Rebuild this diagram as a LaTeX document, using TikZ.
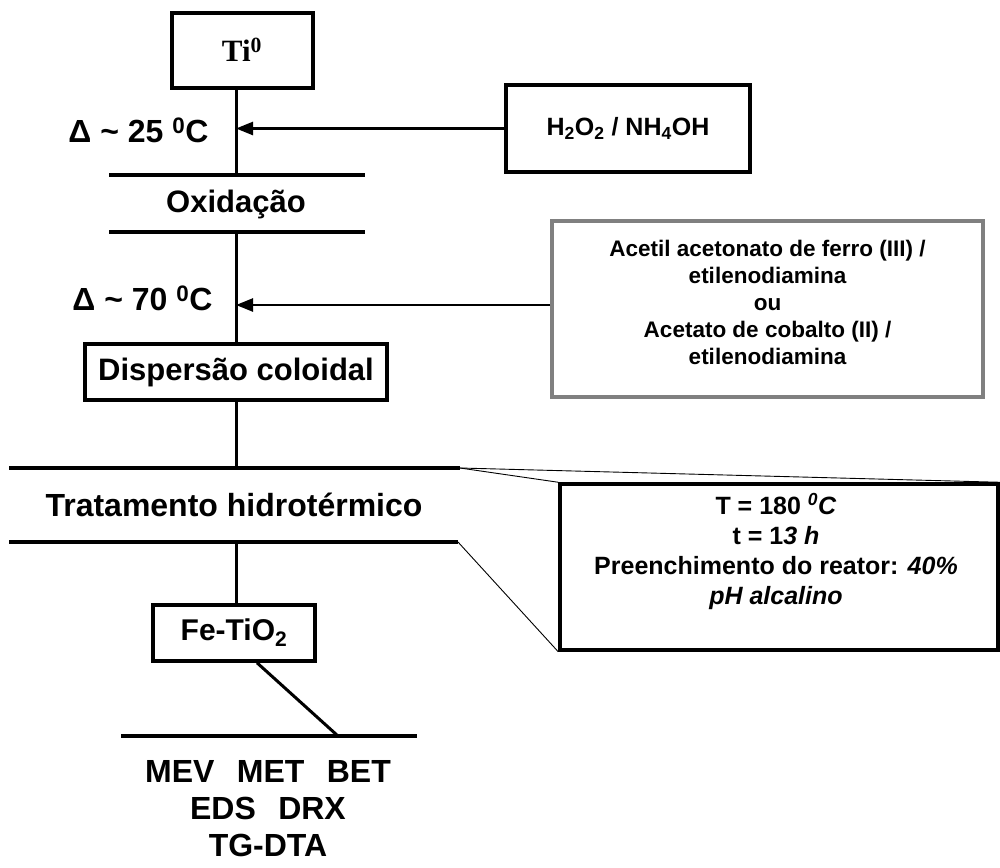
\documentclass[tikz,border=0pt]{standalone}
\usepackage{fontspec}
\setmainfont{Liberation Sans}
\newfontfamily\serifb{Liberation Serif}
\usetikzlibrary{arrows.meta,backgrounds}
\begin{document}
\begin{tikzpicture}[x=1pt,y=-1pt,
  box/.style={draw, line width=3.5pt, inner sep=0pt},
  hline/.style={line width=3.5pt},
  vline/.style={line width=3pt},
  arr/.style={line width=2.5pt,-{Triangle[length=17pt,width=13pt]}},
  thin/.style={line width=0.9pt},
]
\useasboundingbox (0,0) rectangle (1000,867);

% Ti box
\node[box, minimum width=141pt, minimum height=75pt] (ti) at (242.5,50.5) {};
\node[font=\serifb\fontsize{31}{34}\selectfont\bfseries] (titext) at (242,50)
  {Ti\textsuperscript{0}};
\coordinate (oxtop) at (236,175);
\coordinate (oxl1) at (109,175);
\coordinate (oxr1) at (365,175);
\coordinate (oxl2) at (109,232);
\coordinate (oxr2) at (365,232);
\coordinate (oxbot) at (236,232);
\draw[vline] (ti.south -| oxtop) -- (oxtop);
\draw[hline] (oxl1) -- (oxr1);
\draw[hline] (oxl2) -- (oxr2);
\node[font=\fontsize{31}{36}\selectfont\bfseries] (ox) at (236,204) {Oxidação};

% H2O2 box
\node[box, minimum width=244pt, minimum height=87pt, font=\fontsize{25}{30}\selectfont\bfseries] (h2o2) at (628,128.5)
  {H\textsubscript{2}O\textsubscript{2} / NH\textsubscript{4}OH};
\draw[arr] (h2o2.west) -- (h2o2.west -| oxtop);
\node[anchor=east, font=\fontsize{32}{36}\selectfont\bfseries] (d25) at (212,130) {Δ \textasciitilde{} 25 \textsuperscript{0}C};

% Dispersao box
\node[box, minimum height=56pt, inner xsep=13pt, font=\fontsize{31}{36}\selectfont\bfseries] (disp) at (236,372) {Dispersão coloidal};
\draw[vline] (oxbot) -- (disp.north -| oxbot);

% gray box
\node[draw=black!50, line width=4pt, minimum width=431pt, minimum height=176pt] (gray) at (767.5,309) {};
\node[align=center, font=\fontsize{22.5}{27}\selectfont\bfseries] (graytext) at (767.5,302)
  {Acetil acetonato de ferro (III) /\\ etilenodiamina\\ ou\\ Acetato de cobalto (II) /\\ etilenodiamina};
\draw[arr] ([yshift=4pt]gray.west) -- ([yshift=4pt]gray.west -| oxtop);
\node[anchor=east, font=\fontsize{32}{36}\selectfont\bfseries] (d70) at (216,298) {Δ \textasciitilde{} 70 \textsuperscript{0}C};

% Tratamento
\coordinate (trl1) at (9,468);
\coordinate (trr1) at (460,468);
\coordinate (trl2) at (9,542);
\coordinate (trr2) at (458,542);
\coordinate (trtop) at (236,468);
\coordinate (trbot) at (236,542);
\draw[vline] (disp.south -| trtop) -- (trtop);
\draw[hline] (trl1) -- (trr1);
\draw[hline] (trl2) -- (trr2);
\node[font=\fontsize{32}{36}\selectfont\bfseries] (trat) at (234,505) {Tratamento hidrotérmico};

% T box
\node[box, fill=white, minimum width=438pt, minimum height=166pt] (tbox) at (779,567) {};
\node[align=center, font=\fontsize{25}{30}\selectfont\bfseries] (ttext) at (776,551)
  {T = 180 \textsuperscript{\itshape 0}\textit{C}\\ t = 1\textit{3 h}\\ Preenchimento do reator: \textit{40\%}\\ \textit{pH alcalino}};
\begin{scope}[on background layer]
\draw[thin] (trr1) -- (tbox.north west);
\draw[thin] (trr1) -- (tbox.north east);
\draw[thin] (trr2) -- (tbox.south west);
\end{scope}

% Fe-TiO2
\node[box, minimum width=162pt, minimum height=56pt, font=\fontsize{30}{34}\selectfont\bfseries] (fe) at (234,633)
  {Fe-TiO\textsubscript{2}};
\draw[vline] (trbot) -- (fe.north -| trbot);
\coordinate (anl) at (121,736);
\coordinate (anr) at (417,736);
\coordinate (anj) at (338,736);
\draw[hline] (anl) -- (anr);
\draw[vline] ([xshift=23pt]fe.south) -- (anj);
\node[align=center, font=\fontsize{32}{37}\selectfont\bfseries] (anal) at (268,809)
  {MEV\hspace{0.7em}MET\hspace{0.7em}BET\\ EDS\hspace{0.7em}DRX\\ TG-DTA};
\end{tikzpicture}
\end{document}
